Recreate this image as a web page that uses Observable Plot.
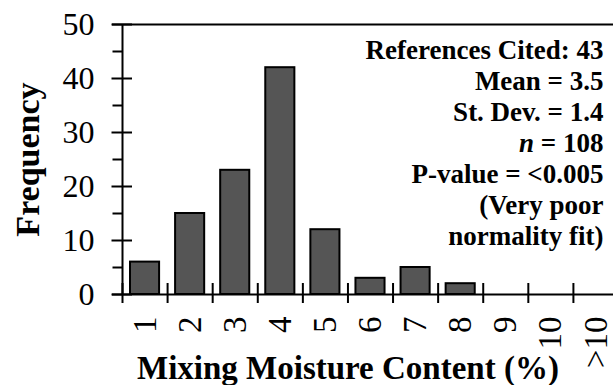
<!DOCTYPE html>
<html>
<head>
<meta charset="utf-8">
<script src="https://cdn.jsdelivr.net/npm/d3@7"></script>
<script src="https://cdn.jsdelivr.net/npm/@observablehq/plot@0.6"></script>
<style>
  html, body { margin: 0; padding: 0; background: #fff; overflow: hidden; }
  #chart svg { display: block; }
</style>
</head>
<body>
<div id="chart"></div>
<script>
// Histogram bins of mixing moisture content (%) and their frequencies
const categories = ["1", "2", "3", "4", "5", "6", "7", "8", "9", "10", ">10"];
const frequency = [6, 15, 23, 42, 12, 3, 5, 2, 0, 0, 0];

// Y axis ticks
const yMajorTicks = [0, 10, 20, 30, 40, 50];
const yMinorTicks = [5, 15, 25, 35, 45];

// Summary statistics box
const statsLines = [
  "References Cited: 43",
  "Mean = 3.5",
  "St. Dev. = 1.4",
  "n = 108",
  "P-value = <0.005",
  "(Very poor",
  "normality fit)"
];

const xTitle = "Mixing Moisture Content (%)";
const yTitle = "Frequency";

// Each bin occupies one unit on a linear x scale, centered on its index
const bins = categories.map((label, i) => ({label, pos: i + 1, count: frequency[i]}));
const edges = d3.range(categories.length + 1).map(i => i + 0.5);
const serif = "'Liberation Serif', 'Times New Roman', Times, serif";

const chart = Plot.plot({
  width: 613,
  height: 385,
  marginLeft: 122,
  marginRight: -5,
  marginTop: 24,
  marginBottom: 91,
  style: {fontFamily: serif, background: "white", color: "black"},
  x: {domain: [0.5, categories.length + 0.5], axis: null},
  y: {domain: [0, 50], axis: null},
  marks: [
    // bars
    Plot.rectY(bins.filter(d => d.count > 0), {
      x1: d => d.pos - 0.5,
      x2: d => d.pos + 0.5,
      y: "count",
      insetLeft: 8,
      insetRight: 8,
      fill: "#555555",
      stroke: "black",
      strokeWidth: 2
    }),
    // axis lines and top border
    Plot.ruleY([0, 50], {stroke: "black", strokeWidth: 2, insetLeft: -10}),
    Plot.ruleX([0.5], {y1: 0, y2: 50, stroke: "black", strokeWidth: 2}),
    // y ticks: majors cross the axis, minors point outward
    Plot.ruleY(yMajorTicks, {x1: 0.5, x2: 0.5, insetLeft: -10.5, insetRight: -10, stroke: "black", strokeWidth: 2}),
    Plot.ruleY(yMinorTicks, {x1: 0.5, x2: 0.5, insetLeft: -9.5, insetRight: 0, stroke: "black", strokeWidth: 2}),
    // x ticks on bin edges, crossing the axis
    Plot.ruleX(edges, {y1: 0, y2: 0, insetTop: -11, insetBottom: -9, stroke: "black", strokeWidth: 2}),
    // y tick labels
    Plot.text(yMajorTicks, {
      x: 0.5, y: d => d, text: d => String(d),
      textAnchor: "end", dx: -28, fontSize: 32, fill: "black"
    }),
    // x tick labels, rotated
    Plot.text(bins, {
      x: "pos", y: 0, text: "label",
      rotate: -90, textAnchor: "end", lineAnchor: "middle",
      dy: 22, fontSize: 33, fill: "black"
    }),
    // axis titles
    Plot.text([yTitle], {
      frameAnchor: "left", y: 25, text: d => d,
      rotate: -90, textAnchor: "middle", lineAnchor: "bottom", dx: -84,
      fontSize: 34, fontWeight: "bold", fill: "black"
    }),
    Plot.text([xTitle], {
      x: (1 + 10) / 2, frameAnchor: "bottom", text: d => d,
      textAnchor: "middle", lineAnchor: "bottom", dy: 84,
      fontSize: 33, fontWeight: "bold", fill: "black"
    }),
    // statistics
    Plot.text([statsLines.join("\n")], {
      frameAnchor: "top-right", text: d => d,
      textAnchor: "end", lineAnchor: "top", lineHeight: 31 / 27,
      dx: -15, dy: 12,
      fontSize: 27, fontWeight: "bold", fill: "black"
    })
  ]
});

// italic sample-size symbol in the statistics box
d3.select(chart).selectAll("tspan").each(function() {
  const t = this.textContent;
  if (t.startsWith("n = ")) {
    const rest = t.slice(1);
    this.textContent = "";
    d3.select(this).append("tspan").attr("font-style", "italic").text("n");
    d3.select(this).append("tspan").text(rest);
  }
});

document.getElementById("chart").appendChild(chart);
</script>
</body>
</html>
